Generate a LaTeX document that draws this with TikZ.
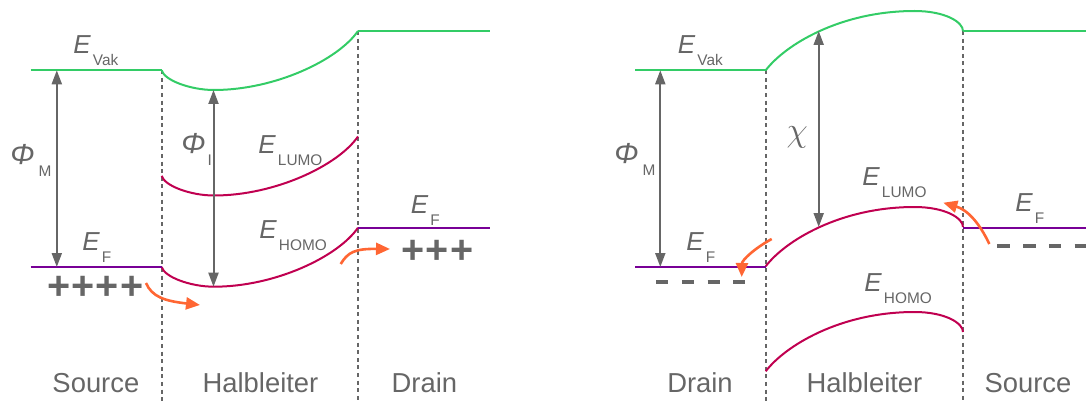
\documentclass[tikz,border=0pt]{standalone}
\usepackage{fontspec}
\setmainfont{Liberation Sans}
\usetikzlibrary{arrows.meta}

\definecolor{vakgreen}{RGB}{51,204,102}
\definecolor{bandred}{RGB}{192,0,80}
\definecolor{fermiviolet}{RGB}{120,0,150}
\definecolor{hoporange}{RGB}{255,102,51}
\definecolor{txtgray}{RGB}{102,102,102}

\newcommand{\lvl}[2]{\textit{#1}\kern1pt\raisebox{-6pt}{\fontsize{7.7}{8}\selectfont #2}}
\newcommand{\bigphi}{{\fontsize{14.5}{15}\selectfont Φ}}
\newcommand{\pl}{+\kern0.6pt}

\tikzset{
  lbl/.style={inner sep=0pt,anchor=base west,text=txtgray,font=\fontsize{13}{15}\selectfont},
  region/.style={inner sep=0pt,anchor=base,text=txtgray,font=\fontsize{13.7}{15}\selectfont},
  level/.style={line width=1pt},
  iface/.style={txtgray,line width=0.8pt,dash pattern=on 2pt off 1.8pt},
  gap/.style={txtgray,line width=1pt,{Triangle[length=7pt,width=5pt]}-{Triangle[length=7pt,width=5pt]}},
  hop/.style={hoporange,line width=1.3pt,-{Triangle[length=7pt,width=6pt]}},
  charge/.style={inner sep=0pt,text=txtgray,font=\bfseries\fontsize{19.8}{21}\selectfont},
  minus/.style={txtgray,line width=1.85pt,dash pattern=on 6.2pt off 6.7pt}
}

\begin{document}
\begin{tikzpicture}[x=0.5pt,y=-0.5pt]
\useasboundingbox (0,0) rectangle (1086,401);

\foreach \x/\y in {161.7/70.3,358/31,765.7/70.3,963/31}
{
\draw[iface] (\x,\y) -- (\x,401);
}

\foreach \dy/\col in {0/vakgreen,105.5/bandred,196.7/bandred}
{
\draw[level,draw=\col,shift={(0,\dy)}] (161.7,70.3) .. controls (164,80) and (190,90) .. (214,90)
  .. controls (275,90) and (338,60) .. (358,31);
}
\foreach \dy/\col in {0/vakgreen,196/bandred,301/bandred}
{
\draw[level,draw=\col,shift={(0,\dy)}] (765.7,70.3) .. controls (785,45) and (840,11) .. (914.5,11)
  .. controls (945,11) and (963,22) .. (963,31);
}

\foreach \xa/\xb/\y/\col in {30.7/161.7/70.3/vakgreen,358/489.7/31/vakgreen,
  30.7/161.7/267/fermiviolet,358/489.7/227.7/fermiviolet,
  635/765.7/70.3/vakgreen,963/1086/31/vakgreen,
  635/765.7/267/fermiviolet,963/1086/227.7/fermiviolet}
{
\draw[level,draw=\col] (\xa,\y) -- (\xb,\y);
}

\coordinate (phiMtopL) at (56.8,70.3);
\coordinate (phiMbotL) at (56.8,267);
\coordinate (phiItop) at (213.5,90);
\coordinate (phiIbot) at (213.5,286.7);
\coordinate (phiMtopR) at (660.3,70.3);
\coordinate (phiMbotR) at (660.3,267);
\coordinate (chitop) at (818.7,31);
\coordinate (chibot) at (818.7,227);
\draw[gap] (phiMtopL) -- (phiMbotL);
\draw[gap] (phiItop) -- (phiIbot);
\draw[gap] (phiMtopR) -- (phiMbotR);
\draw[gap] (chitop) -- (chibot);

\coordinate (hopAs) at (146,283);
\coordinate (hopAe) at (200,305);
\coordinate (hopBs) at (340.7,264);
\coordinate (hopBe) at (390,249);
\coordinate (hopCs) at (771.7,239);
\coordinate (hopCe) at (741.7,277);
\coordinate (hopDs) at (989.3,244);
\coordinate (hopDe) at (943.3,202.7);
\draw[hop] (hopAs) .. controls (152,297) and (165,301) .. (hopAe);
\draw[hop] (hopBs) .. controls (348,252) and (355,248.7) .. (hopBe);
\draw[hop] (hopCs) .. controls (755,248) and (742,260) .. (hopCe);
\draw[hop] (hopDs) .. controls (980,224) and (968,210) .. (hopDe);

\node[charge] (holesL) at (95.3,288) {\pl\pl\pl+};
\node[charge] (holesR) at (437.3,251.5) {\pl\pl+};
\draw[minus] (656,282.3) -- (745,282.3);
\draw[minus] (997.3,246) -- (1086,246);

\node[lbl] (evakL) at (73,53.3) {\lvl{E}{Vak}};
\node[lbl] (phiML) at (10,164) {\lvl{\bigphi\kern1pt}{M}};
\node[lbl] (phiI) at (181,153.3) {\lvl{\bigphi}{I}};
\node[lbl] (eLumoL) at (258,153.3) {\lvl{E}{LUMO}};
\node[lbl] (eHomoL) at (259,238.3) {\lvl{E}{HOMO}};
\node[lbl] (efL) at (82,250.7) {\lvl{E}{F}};
\node[lbl] (efLR) at (410.5,213.3) {\lvl{E}{F}};

\node[lbl] (evakR) at (677.5,53.3) {\lvl{E}{Vak}};
\node[lbl] (phiMR) at (614,163.3) {\lvl{\bigphi\kern1pt}{M}};
\node[inner sep=0pt,text=txtgray,font=\fontsize{17}{19}\selectfont] (chi) at (797.3,137) {$\chi$};
\node[lbl] (eLumoR) at (862,185) {\lvl{E}{LUMO}};
\node[lbl] (eHomoR) at (864,291.7) {\lvl{E}{HOMO}};
\node[lbl] (efR) at (686,250.7) {\lvl{E}{F}};
\node[lbl] (efRR) at (1015,211.7) {\lvl{E}{F}};

\node[region] (sourceL) at (95.9,392.5) {Source};
\node[region] (halbL) at (260.5,392.5) {Halbleiter};
\node[region] (drainL) at (424.4,392.5) {Drain};
\node[region] (drainR) at (700,392.5) {Drain};
\node[region] (halbR) at (864.5,392.5) {Halbleiter};
\node[region] (sourceR) at (1028,392.5) {Source};
\end{tikzpicture}
\end{document}
